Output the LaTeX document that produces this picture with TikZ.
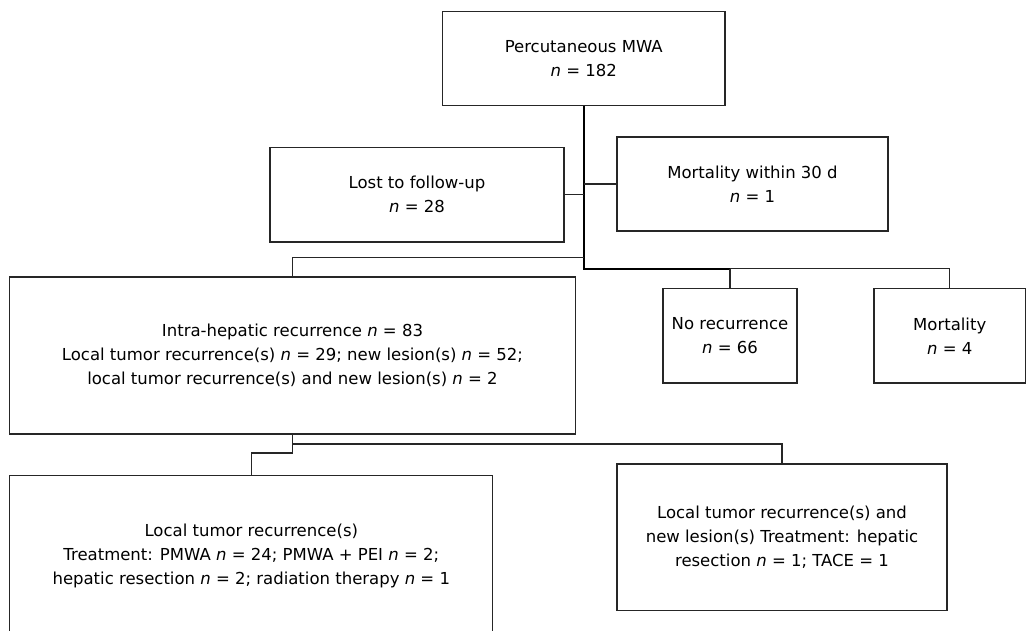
\documentclass[tikz,border=0pt]{standalone}
\usepackage{fontspec}
\setmainfont{DejaVu Sans}
\begin{document}
\begin{tikzpicture}[x=1pt,y=-1pt,
  box/.style={draw=black!85,line width=1.1pt,inner sep=0pt,align=center,
    font=\fontsize{16.5}{24}\selectfont,anchor=center},
  link/.style={draw=black!85,line width=1.1pt},
  trunk/.style={draw=black,line width=1.8pt}]
\useasboundingbox (0,0) rectangle (1026,630);
\node[box,minimum width=282.5pt,minimum height=94.3pt] (top) at (583.75,58.2)
  {Percutaneous MWA\\\textit{n} = 182};
\node[box,minimum width=294pt,minimum height=94.5pt] (lost) at (417,194.75)
  {Lost to follow-up\\\textit{n} = 28};
\node[box,minimum width=271pt,minimum height=94pt] (mort30) at (752.5,184)
  {Mortality within 30 d\\\textit{n} = 1};
\node[box,minimum width=565.4pt,minimum height=157pt] (intra) at (292.5,355.5)
  {Intra-hepatic recurrence \textit{n} = 83\\
   Local tumor recurrence(s) \textit{n} = 29; new lesion(s) \textit{n} = 52;\\
   local tumor recurrence(s) and new lesion(s) \textit{n} = 2};
\node[box,minimum width=134pt,minimum height=94.3pt] (norec) at (730,335.8)
  {No recurrence\\\textit{n} = 66};
\node[box,minimum width=151.5pt,minimum height=94.3pt] (mort) at (949.75,335.8)
  {Mortality\\\textit{n} = 4};
\node[box,minimum width=483pt,minimum height=160.7pt] (botleft) at (251.3,555.6)
  {Local tumor recurrence(s)\\
   Treatment: PMWA \textit{n} = 24; PMWA + PEI \textit{n} = 2;\\
   hepatic resection \textit{n} = 2; radiation therapy \textit{n} = 1};
\node[box,minimum width=330pt,minimum height=146.7pt] (botright) at (782,537.3)
  {Local tumor recurrence(s) and\\
   new lesion(s) Treatment: hepatic\\
   resection \textit{n} = 1; TACE = 1};
\coordinate (tj) at (583.75,268.7);
\coordinate (lj) at (583.75,257.3);
\coordinate (rj) at (730,268.7);
\coordinate (ij) at (292.5,444);
\coordinate (ik) at (292.5,453);
% trunk
\draw[trunk] (top.south) -- (tj) -- (rj);
\draw[link] (lost.east) -- (lost.east -| top.south);
\draw[link] (mort30.west -| top.south) -- (mort30.west);
\draw[link] (lj) -- (lj -| intra.north) -- (intra.north);
\draw[link] (rj) -- (norec.north);
\draw[link] (rj) -- (rj -| mort.north) -- (mort.north);
\draw[link] (intra.south) -- (ij) -- (ij -| botright.north) -- (botright.north);
\draw[link] (ij) -- (ik) -- (ik -| botleft.north) -- (botleft.north);
\end{tikzpicture}
\end{document}
